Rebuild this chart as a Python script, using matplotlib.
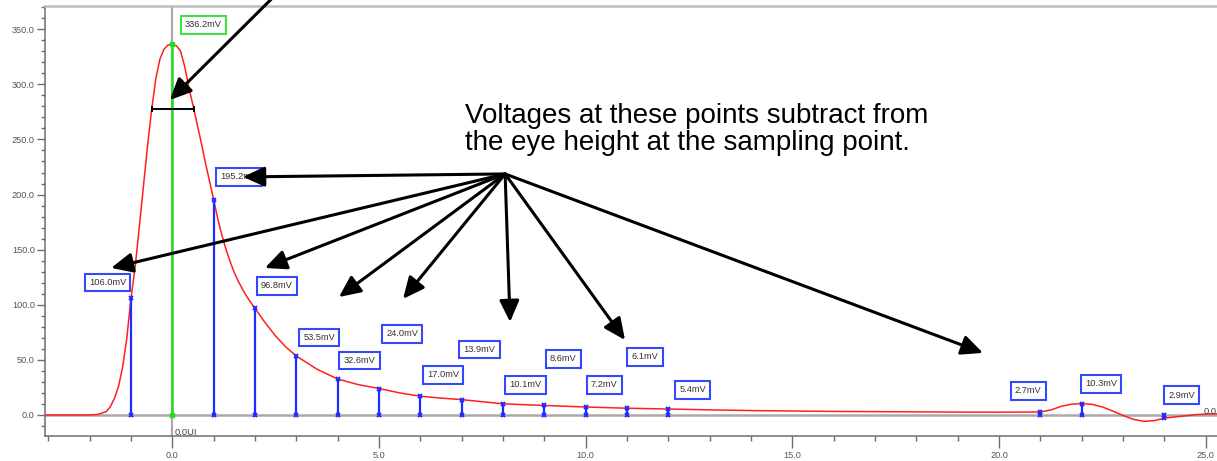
import matplotlib
matplotlib.use("Agg")
import matplotlib.pyplot as plt
import numpy as np

plt.rcParams["font.family"] = ["Liberation Sans", "DejaVu Sans"]

# Pulse response (mV) sampled along the unit-interval axis
curve_x = [-3.1, -2.0, -1.8, -1.6, -1.5, -1.4, -1.3, -1.2, -1.1, -1.0,
           -0.9, -0.8, -0.7, -0.6, -0.5, -0.4, -0.3, -0.2, -0.1, 0.0,
           0.1, 0.2, 0.3, 0.4, 0.5, 0.6, 0.7, 0.8, 0.9, 1.0,
           1.1, 1.2, 1.3, 1.4, 1.5, 1.6, 1.7, 1.8, 1.9, 2.0,
           2.25, 2.5, 2.75, 3.0, 3.5,
           4.0, 4.5, 5.0, 5.5, 6.0, 6.5, 7.0, 7.5, 8.0, 9.0,
           10.0, 11.0, 12.0, 13.0, 14.0, 15.0, 16.0, 17.0, 18.0, 19.0,
           20.0, 21.0, 21.25, 21.5, 21.75, 22.0, 22.25, 22.5, 22.75, 23.0,
           23.25, 23.5, 23.75, 24.0, 24.25, 24.5, 24.75, 25.0, 25.3]
curve_mv = [0.0, 0.0, 0.5, 3.0, 7.5, 15.0, 26.0, 44.0, 70.0, 106.0,
            134.0, 170.0, 207.0, 244.0, 277.0, 305.0, 323.0, 332.0, 335.8, 336.2,
            335.0, 330.0, 316.0, 297.0, 281.0, 264.0, 247.0, 229.0, 212.0, 195.2,
            178.0, 163.0, 150.0, 139.0, 129.0, 121.0, 114.0, 107.5, 102.0, 96.8,
            83.5, 71.5, 61.5, 53.5, 41.5,
            32.6, 27.5, 24.0, 20.0, 17.0, 15.3, 13.9, 12.0, 10.1, 8.6,
            7.2, 6.1, 5.4, 4.6, 4.0, 3.6, 3.2, 3.0, 2.8, 2.6,
            2.5, 2.7, 4.5, 7.8, 9.8, 10.3, 9.6, 7.2, 3.5, -0.5,
            -4.0, -5.8, -5.2, -2.9, -1.8, -0.8, 0.3, 0.8, 1.0]

# Cursor at the main sampling point
peak_ui = 0.0
peak_mv = 336.2

# Residual ISI samples (UI offset, mV)
isi_ui = [-1, 1, 2, 3, 4, 5, 6, 7, 8, 9, 10, 11, 12, 21, 22, 24]
isi_mv = [106.0, 195.2, 96.8, 53.5, 32.6, 24.0, 17.0, 13.9, 10.1, 8.6,
          7.2, 6.1, 5.4, 2.7, 10.3, -2.9]
# Where each value box sits (UI, mV)
isi_box_ui = [-1.565, 1.613, 2.525, 3.549, 4.528, 5.556, 6.548, 7.431, 8.544, 9.451,
              10.443, 11.435, 12.583, 20.70, 22.46, 24.42]
isi_box_mv = [120.2, 216.0, 117.1, 70.3, 49.5, 73.5, 36.3, 59.4, 27.2, 50.8,
              27.2, 52.6, 22.7, 21.8, 28.1, 18.1]

# Width marker on the main pulse
bar_level = 277.2
bar_ui = [-0.50, 0.53]

# Axis ticks
x_major = [0.0, 5.0, 10.0, 15.0, 20.0, 25.0]
y_major = [0.0, 50.0, 100.0, 150.0, 200.0, 250.0, 300.0, 350.0]

# Callout arrows: common origin and tips
callout_origin = (8.05, 218.7)
callout_tips = [(1.71, 216.0), (-1.48, 133.4), (2.24, 133.4), (4.03, 107.0),
                (5.58, 105.3), (8.17, 84.4), (10.95, 68.0), (19.61, 56.3)]
callout_lines = ["Voltages at these points subtract from",
                 "the eye height at the sampling point."]

RED = "#ff1f1f"
BLUE = "#1f2bff"
BOX_BLUE = "#3348ff"
GREEN = "#22dd22"
GRAY = "#a9a9a9"
AXC = "#6e6e6e"

fig = plt.figure(figsize=(12.17, 4.61), dpi=100)
ax = fig.add_axes([45 / 1217, 25 / 461, 1 - 45 / 1217, 430 / 461])
ax.set_xlim(-3.08, 25.27)
ax.set_ylim(-19.1, 371.1)

for side in ("left", "bottom"):
    ax.spines[side].set_color(AXC)
    ax.spines[side].set_linewidth(1.1)
ax.spines["top"].set_color("#bdbdbd")
ax.spines["top"].set_linewidth(1.8)
ax.spines["right"].set_visible(False)

ax.set_xticks(x_major)
ax.set_xticklabels([f"{v:.1f}" for v in x_major])
ax.set_xticks(np.arange(-3, 26, 1), minor=True)
ax.set_yticks(y_major)
ax.set_yticklabels([f"{v:.1f}" for v in y_major])
ax.set_yticks(np.arange(-10, 371, 10), minor=True)
ax.tick_params(axis="x", which="major", length=8.5, width=1.0, color=AXC,
               labelsize=6.6, labelcolor="#555555", pad=2)
ax.tick_params(axis="x", which="minor", length=3.6, width=1.0, color=AXC)
ax.tick_params(axis="y", which="major", length=5.8, width=1.0, color=AXC,
               labelsize=6.6, labelcolor="#555555", pad=1.5)
ax.tick_params(axis="y", which="minor", length=2.9, width=1.0, color=AXC)

# Reference lines
ax.axhline(0, color=GRAY, lw=1.8, zorder=1)
ax.axvline(peak_ui, color=GRAY, lw=1.6, zorder=1)

# Pulse response
ax.plot(curve_x, curve_mv, color=RED, lw=1.1, zorder=3)

# Main cursor
ax.vlines(peak_ui, 0, peak_mv, color=GREEN, lw=1.8, zorder=4)
ax.plot([peak_ui, peak_ui], [0, peak_mv], ls="none", marker="s", ms=2.5,
        color=GREEN, zorder=5)
ax.text(0.755, 353.9, f"{peak_mv:.1f}mV", fontsize=6.7, color="#333333",
        ha="center", va="center", zorder=6,
        bbox=dict(boxstyle="square,pad=0.45", fc="white", ec="#44e044", lw=1.5))

# Width bar
ax.plot(bar_ui, [bar_level, bar_level], color="black", lw=1.4, marker="|",
        ms=4, mew=1.4, zorder=5)

# ISI samples
ax.vlines(isi_ui, 0, isi_mv, color=BLUE, lw=1.6, zorder=4)
ax.plot(isi_ui, isi_mv, ls="none", marker="x", ms=3.5, mew=1.4, color=BLUE, zorder=5)
ax.plot(isi_ui, np.zeros(len(isi_ui)), ls="none", marker="x", ms=3.5, mew=1.4,
        color=BLUE, zorder=5)
for bx, by, v in zip(isi_box_ui, isi_box_mv, isi_mv):
    ax.text(bx, by, f"{abs(v):.1f}mV", fontsize=6.7, color="#333333",
            ha="center", va="center", zorder=6,
            bbox=dict(boxstyle="square,pad=0.45", fc="white", ec=BOX_BLUE, lw=1.5))

ax.text(0.065, -15.9, "0.0UI", fontsize=6.7, color="#444444", ha="left", va="center")
ax.text(24.94, 2.7, "0.0", fontsize=6.7, color="#444444", ha="left", va="center",
        clip_on=False)

# Callouts
arrow_kw = dict(arrowstyle="-|>,head_length=0.65,head_width=0.3", color="black",
                lw=2.2, mutation_scale=20, shrinkA=0, shrinkB=0, clip_on=False)
for tip in callout_tips:
    ax.annotate("", xy=tip, xytext=callout_origin, arrowprops=arrow_kw,
                annotation_clip=False, zorder=8)
ax.annotate("", xy=(-0.06, 285.8), xytext=(2.47, 380.2), arrowprops=arrow_kw,
            annotation_clip=False, zorder=8)

ax.text(7.08, 264.7, callout_lines[0], fontsize=20, color="black",
        ha="left", va="baseline")
ax.text(7.08, 240.5, callout_lines[1], fontsize=20, color="black",
        ha="left", va="baseline")

fig.savefig("out.png", dpi=100)
